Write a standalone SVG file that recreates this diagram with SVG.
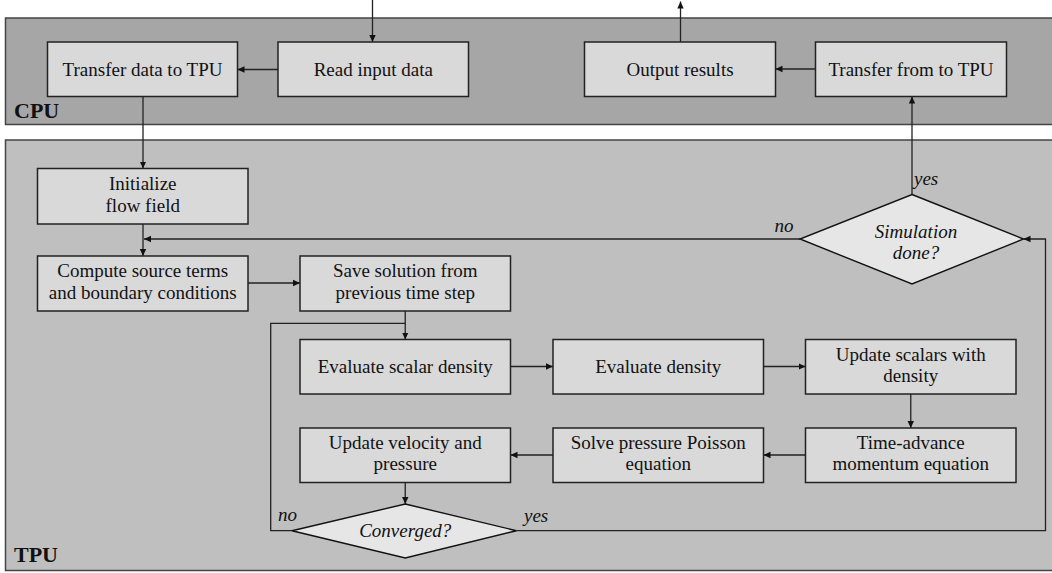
<svg xmlns="http://www.w3.org/2000/svg" width="1052" height="573" viewBox="0 0 1052 573">
<defs>
<marker id="ah" markerWidth="8" markerHeight="8" refX="7" refY="4" orient="auto" markerUnits="userSpaceOnUse">
<path d="M0,0.8 L7,4 L0,7.2 Z" fill="#111"/>
</marker>
<style>
.panel{stroke:#444;stroke-width:1.5}
.box{fill:#d9d9d9;stroke:#222;stroke-width:1.5}
.dia{fill:#e6e6e6;stroke:#111;stroke-width:1.4}
.t{font-family:"Liberation Serif","Times New Roman",serif;font-size:19px;fill:#111;text-anchor:middle}
.i{font-family:"Liberation Serif","Times New Roman",serif;font-size:19px;font-style:italic;fill:#111}
.ti{text-anchor:middle}
.lbl{font-family:"Liberation Serif","Times New Roman",serif;font-size:22px;font-weight:bold;fill:#111}
.c{fill:none;stroke:#222;stroke-width:1.3}
.a{marker-end:url(#ah)}
</style>
</defs>
<rect width="1052" height="573" fill="#fff"/>
<g id="cpu-panel">
<rect class="panel" x="5.5" y="18" width="1060" height="106.5" fill="#a6a6a6"/>
<text class="lbl" x="14" y="117.5">CPU</text>
</g>
<g id="tpu-panel">
<rect class="panel" x="5.5" y="140" width="1060" height="430.5" fill="#bfbfbf"/>
<text class="lbl" x="14" y="562">TPU</text>
</g>
<g id="connectors">
<path class="c a" d="M372.5,0 V42"/>
<path class="c a" d="M278,69.5 H237.5"/>
<path class="c a" d="M143,96.5 V168.5"/>
<path class="c a" d="M143,224 V256"/>
<path class="c a" d="M800,239 H144"/>
<path class="c a" d="M248,283 H300"/>
<path class="c a" d="M405.25,311 V339.5"/>
<path class="c a" d="M510.5,366.5 H553"/>
<path class="c a" d="M763.5,366.5 H805.5"/>
<path class="c a" d="M910.75,394 V428"/>
<path class="c a" d="M805.5,455 H763.5"/>
<path class="c a" d="M553,455 H510.5"/>
<path class="c a" d="M405.25,482.5 V504"/>
<path class="c" d="M292,530.7 H270.7 V323.3 H405.25"/>
<path class="c a" d="M516.5,530.7 H1045.5 V239 H1023.5"/>
<path class="c a" d="M912,194.5 V96.5"/>
<path class="c a" d="M815.5,69 H775.5"/>
<path class="c a" d="M680.5,42 V1.5"/>
</g>
<g id="read-input">
<rect class="box" x="278" y="42" width="190.5" height="54.5"/>
<text class="t" x="373.25" y="76">Read input data</text>
</g>
<g id="transfer-to-tpu">
<rect class="box" x="47.5" y="42" width="190" height="54.5"/>
<text class="t" x="142.5" y="76">Transfer data to TPU</text>
</g>
<g id="output-results">
<rect class="box" x="584.5" y="42" width="191" height="54.5"/>
<text class="t" x="680" y="76">Output results</text>
</g>
<g id="transfer-from-tpu">
<rect class="box" x="815.5" y="42" width="191" height="54.5"/>
<text class="t" x="911" y="76">Transfer from to TPU</text>
</g>
<g id="initialize">
<rect class="box" x="37.5" y="168.5" width="210.5" height="55.5"/>
<text class="t" x="142.75" y="190.2">Initialize<tspan x="142.75" dy="21.3">flow field</tspan></text>
</g>
<g id="compute-source">
<rect class="box" x="37.5" y="256" width="210.5" height="55"/>
<text class="t" x="142.75" y="277.3">Compute source terms<tspan x="142.75" dy="21.3">and boundary conditions</tspan></text>
</g>
<g id="save-solution">
<rect class="box" x="300" y="256" width="210.5" height="55"/>
<text class="t" x="405.25" y="277.3">Save solution from<tspan x="405.25" dy="21.3">previous time step</tspan></text>
</g>
<g id="simulation-done">
<path class="dia" d="M912,194.5 L1023.5,239 L912,284 L800,239 Z"/>
<text class="i ti" x="916" y="238">Simulation<tspan x="916" dy="21.3">done?</tspan></text>
<text class="i" x="914" y="185">yes</text>
<text class="i" x="774.5" y="232">no</text>
</g>
<g id="eval-scalar">
<rect class="box" x="300" y="339.5" width="210.5" height="54.5"/>
<text class="t" x="405.25" y="373">Evaluate scalar density</text>
</g>
<g id="eval-density">
<rect class="box" x="553" y="339.5" width="210.5" height="54.5"/>
<text class="t" x="658.25" y="373">Evaluate density</text>
</g>
<g id="update-scalars">
<rect class="box" x="805.5" y="339.5" width="210.5" height="54.5"/>
<text class="t" x="910.75" y="360.5">Update scalars with<tspan x="910.75" dy="21.3">density</tspan></text>
</g>
<g id="time-advance">
<rect class="box" x="805.5" y="428" width="210.5" height="54.5"/>
<text class="t" x="910.75" y="449">Time-advance<tspan x="910.75" dy="21.3">momentum equation</tspan></text>
</g>
<g id="solve-pressure">
<rect class="box" x="553" y="428" width="210.5" height="54.5"/>
<text class="t" x="658.25" y="449">Solve pressure Poisson<tspan x="658.25" dy="21.3">equation</tspan></text>
</g>
<g id="update-velocity">
<rect class="box" x="300" y="428" width="210.5" height="54.5"/>
<text class="t" x="405.25" y="449">Update velocity and<tspan x="405.25" dy="21.3">pressure</tspan></text>
</g>
<g id="converged">
<path class="dia" d="M405.25,504 L516.5,530.7 L405.25,558 L292,530.7 Z"/>
<text class="i ti" x="405.25" y="537">Converged?</text>
<text class="i" x="278" y="521">no</text>
<text class="i" x="524" y="522">yes</text>
</g>
</svg>
